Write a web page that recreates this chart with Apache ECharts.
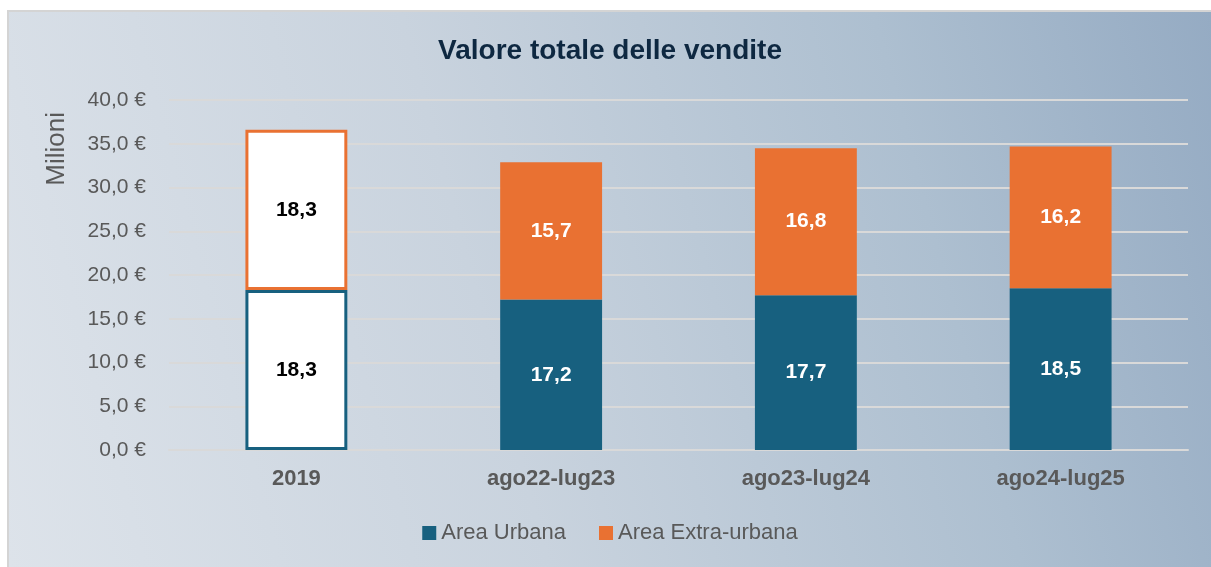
<!DOCTYPE html>
<html>
<head>
<meta charset="utf-8">
<script src="https://cdn.jsdelivr.net/npm/echarts@6/dist/echarts.min.js"></script>
<style>
  html, body { margin: 0; padding: 0; background: #fff; }
  #box {
    position: absolute; left: 7px; top: 10px; width: 1204px; height: 557px;
    border-top: 2px solid #d4d4d4; border-left: 2px solid #d4d4d4; box-sizing: border-box;
    background: linear-gradient(75deg, #dde3ea 0%, #c9d3de 40%, #adbfd0 75%, #95abc3 100%);
  }
  #chart { width: 100%; height: 100%; }
</style>
</head>
<body>
<div id="box"><div id="chart"></div></div>
<script>
// dati
const categories = ['2019', 'ago22-lug23', 'ago23-lug24', 'ago24-lug25'];
const urbana = [18.3, 17.2, 17.7, 18.5];
const extraUrbana = [18.3, 15.7, 16.8, 16.2];

const fmt = v => v.toFixed(1).replace('.', ',');
const FONT = '"Liberation Sans", Arial, sans-serif';
const BLUE = '#17607f', ORANGE = '#e97132';

// il 2019 è disegnato come barra vuota con solo il bordo
function styled(values, color) {
  return values.map((v, i) => i === 0
    ? { value: v, itemStyle: { color: '#fff', borderColor: color, borderWidth: 3 },
        label: { color: '#000' } }
    : v);
}

const barLabel = {
  show: true, position: 'inside', fontSize: 21, fontWeight: 'bold', color: '#fff',
  fontFamily: FONT, formatter: p => fmt(p.value)
};

const chart = echarts.init(document.getElementById('chart'));
chart.setOption({
  backgroundColor: 'transparent',
  textStyle: { fontFamily: FONT },
  title: {
    text: 'Valore totale delle vendite',
    left: 'center', top: 20,
    textStyle: { fontSize: 28, fontWeight: 'bold', color: '#0e2841', fontFamily: FONT }
  },
  legend: {
    bottom: 18, left: 'center',
    itemWidth: 14, itemHeight: 14, itemGap: 33,
    icon: 'rect',
    textStyle: { fontSize: 22, color: '#595959', fontFamily: FONT }
  },
  graphic: [{
    type: 'text', left: 35, top: 100, rotation: Math.PI / 2,
    style: { text: 'Milioni', fill: '#595959', font: '26px ' + FONT }
  }],
  grid: { left: 160, right: 23, top: 88, bottom: 117 },
  xAxis: {
    type: 'category', data: categories,
    axisTick: { show: false },
    axisLine: { lineStyle: { color: '#d9d9d9', width: 2 } },
    axisLabel: { margin: 18, fontSize: 22, fontWeight: 'bold', color: '#595959', fontFamily: FONT }
  },
  yAxis: {
    type: 'value', min: 0, max: 40, interval: 5,
    axisLabel: { margin: 23, fontSize: 21, color: '#595959', fontFamily: FONT,
      formatter: v => fmt(v) + ' €' },
    splitLine: { lineStyle: { color: '#d9d9d9', width: 2 } }
  },
  series: [
    {
      name: 'Area Urbana', type: 'bar', stack: 'tot', barWidth: '40%',
      itemStyle: { color: BLUE }, label: barLabel,
      data: styled(urbana, BLUE)
    },
    {
      name: 'Area Extra-urbana', type: 'bar', stack: 'tot', barWidth: '40%',
      itemStyle: { color: ORANGE }, label: barLabel,
      data: styled(extraUrbana, ORANGE)
    }
  ]
});
</script>
</body>
</html>
